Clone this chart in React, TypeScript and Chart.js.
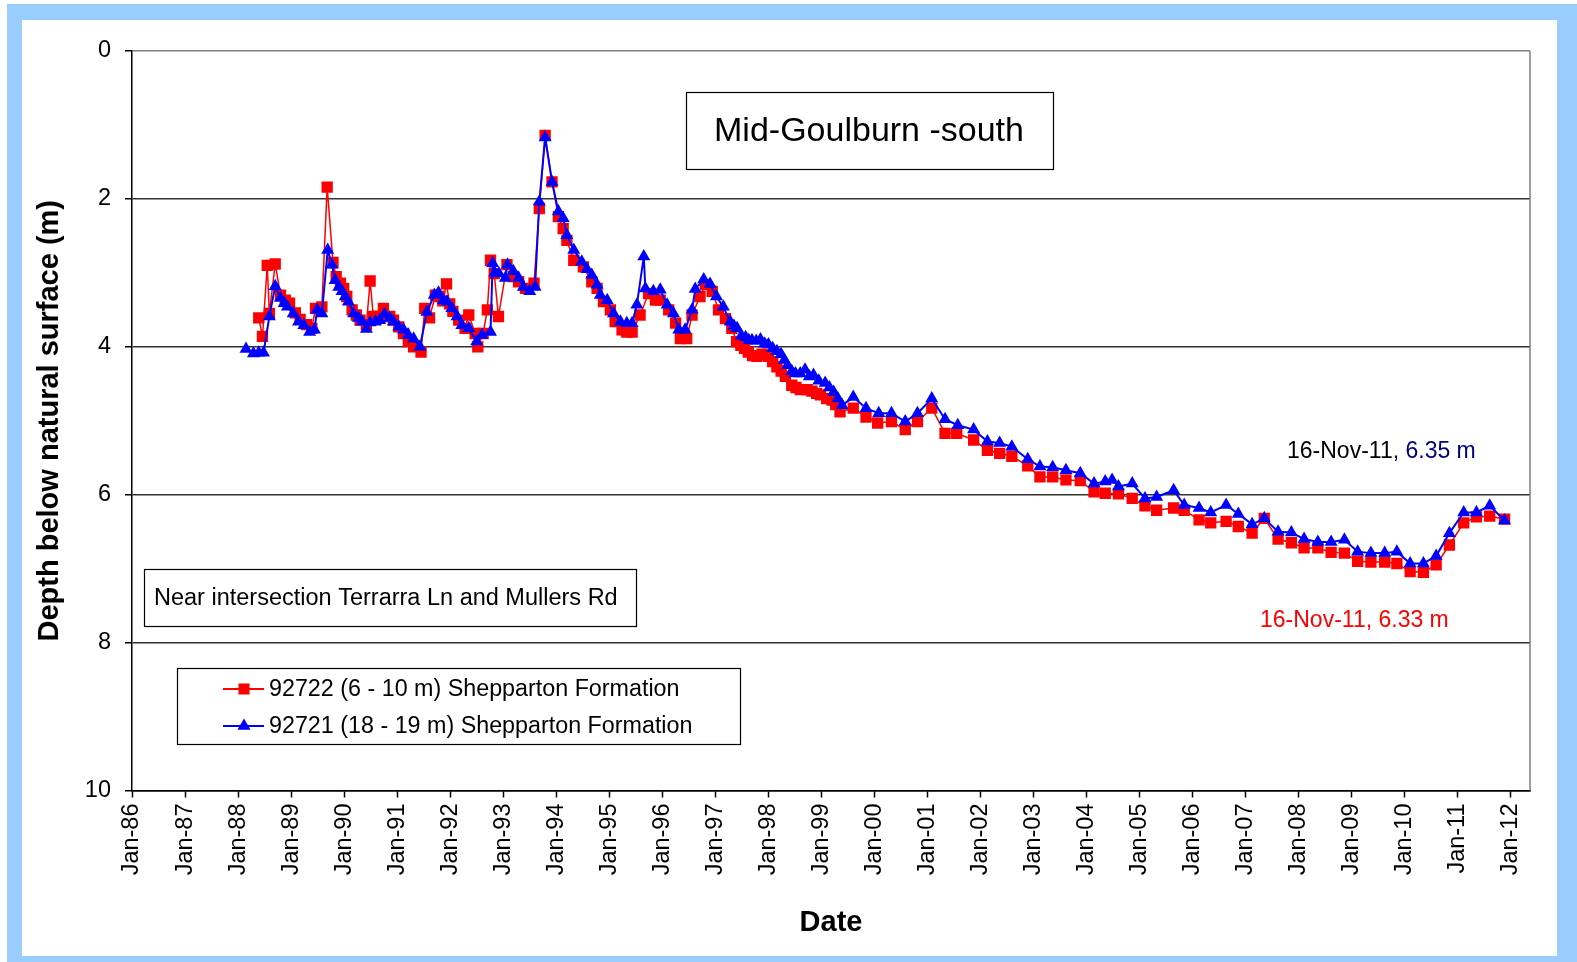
import React, { useEffect, useRef } from 'react';
import { Chart, registerables } from 'chart.js';

Chart.register(...registerables);

// ---- Data (decimal years, depth below natural surface in m) ----
const redDates = [
  1988.39, 1988.46, 1988.55, 1988.59, 1988.70, 1988.80, 1988.89, 1988.97, 1989.08, 1989.17,
  1989.29, 1989.39, 1989.46, 1989.58, 1989.68, 1989.79, 1989.85, 1989.93, 1989.99, 1990.05,
  1990.15, 1990.23, 1990.30, 1990.42, 1990.49, 1990.55, 1990.65, 1990.74, 1990.86, 1990.93,
  1991.03, 1991.12, 1991.21, 1991.31, 1991.45, 1991.52, 1991.61, 1991.72, 1991.80, 1991.86,
  1991.93, 1991.99, 1992.05, 1992.16, 1992.28, 1992.35, 1992.47, 1992.52, 1992.62, 1992.70,
  1992.76, 1992.83, 1992.91, 1993.07, 1993.19, 1993.29, 1993.42, 1993.58, 1993.68, 1993.79,
  1993.92, 1994.04, 1994.13, 1994.20, 1994.33, 1994.51, 1994.67, 1994.77, 1994.89, 1995.02,
  1995.11, 1995.24, 1995.33, 1995.43, 1995.58, 1995.74, 1995.87, 1995.96, 1996.12, 1996.25,
  1996.34, 1996.46, 1996.56, 1996.71, 1996.81, 1996.94, 1997.06, 1997.19, 1997.31, 1997.40,
  1997.48, 1997.55, 1997.62, 1997.70, 1997.78, 1997.88, 1998.00, 1998.08, 1998.16, 1998.24,
  1998.32, 1998.44, 1998.52, 1998.60, 1998.73, 1998.82, 1998.91, 1998.98, 1999.10, 1999.20,
  1999.27, 1999.35, 1999.60, 1999.84, 2000.06, 2000.32, 2000.58, 2000.81, 2001.08, 2001.33,
  2001.55, 2001.87, 2002.13, 2002.36, 2002.59, 2002.89, 2003.12, 2003.36, 2003.61, 2003.88,
  2004.14, 2004.35, 2004.60, 2004.86, 2005.10, 2005.32, 2005.64, 2005.84, 2006.12, 2006.34,
  2006.63, 2006.86, 2007.12, 2007.35, 2007.61, 2007.86, 2008.10, 2008.36, 2008.61, 2008.86,
  2009.11, 2009.36, 2009.62, 2009.85, 2010.10, 2010.35, 2010.59, 2010.84, 2011.11, 2011.35,
  2011.60, 2011.88,
];
const redDepths = [
  3.61, 3.86, 2.90, 3.55, 2.88, 3.30, 3.37, 3.41, 3.54, 3.63,
  3.70, 3.75, 3.48, 3.46, 1.84, 2.86, 3.05, 3.14, 3.21, 3.32,
  3.50, 3.57, 3.64, 3.70, 3.11, 3.59, 3.59, 3.48, 3.59, 3.64,
  3.73, 3.82, 3.93, 4.00, 4.07, 3.48, 3.61, 3.30, 3.32, 3.38,
  3.15, 3.42, 3.52, 3.64, 3.75, 3.57, 3.82, 4.00, 3.82, 3.50,
  2.83, 3.01, 3.59, 2.89, 3.05, 3.12, 3.21, 3.14, 2.13, 1.14,
  1.77, 2.24, 2.40, 2.56, 2.83, 2.92, 3.12, 3.21, 3.39, 3.50,
  3.66, 3.77, 3.80, 3.80, 3.57, 3.28, 3.37, 3.37, 3.50, 3.68,
  3.89, 3.89, 3.57, 3.32, 3.16, 3.25, 3.50, 3.62, 3.75, 3.93,
  3.98, 4.02, 4.07, 4.12, 4.13, 4.10, 4.13, 4.20, 4.27, 4.33,
  4.40, 4.52, 4.55, 4.58, 4.58, 4.60, 4.63, 4.65, 4.70, 4.72,
  4.78, 4.88, 4.83, 4.95, 5.03, 5.01, 5.12, 5.01, 4.83, 5.17,
  5.17, 5.26, 5.40, 5.44, 5.48, 5.61, 5.76, 5.76, 5.80, 5.81,
  5.96, 5.98, 5.99, 6.05, 6.15, 6.21, 6.18, 6.21, 6.34, 6.38,
  6.36, 6.43, 6.52, 6.32, 6.60, 6.65, 6.72, 6.72, 6.78, 6.79,
  6.90, 6.91, 6.91, 6.93, 7.04, 7.05, 6.95, 6.68, 6.38, 6.30,
  6.29, 6.33,
];

const blueDates = [
  1988.15, 1988.29, 1988.39, 1988.48, 1988.59, 1988.70, 1988.80, 1988.87, 1988.93, 1989.04,
  1989.14, 1989.24, 1989.35, 1989.44, 1989.49, 1989.58, 1989.69, 1989.77, 1989.83, 1989.90,
  1989.96, 1990.02, 1990.08, 1990.18, 1990.27, 1990.34, 1990.42, 1990.49, 1990.59, 1990.67,
  1990.76, 1990.86, 1990.93, 1991.03, 1991.12, 1991.21, 1991.31, 1991.43, 1991.56, 1991.70,
  1991.78, 1991.87, 1991.94, 1992.03, 1992.13, 1992.22, 1992.35, 1992.50, 1992.60, 1992.76,
  1992.80, 1992.84, 1992.92, 1993.04, 1993.08, 1993.19, 1993.29, 1993.38, 1993.50, 1993.60,
  1993.68, 1993.79, 1993.92, 1994.04, 1994.13, 1994.20, 1994.33, 1994.48, 1994.58, 1994.67,
  1994.77, 1994.83, 1994.96, 1995.08, 1995.21, 1995.33, 1995.43, 1995.52, 1995.65, 1995.68,
  1995.83, 1995.96, 1996.09, 1996.21, 1996.31, 1996.43, 1996.56, 1996.62, 1996.78, 1996.90,
  1997.02, 1997.15, 1997.28, 1997.35, 1997.41, 1997.49, 1997.57, 1997.63, 1997.69, 1997.77,
  1997.85, 1997.93, 1998.00, 1998.08, 1998.16, 1998.24, 1998.30, 1998.36, 1998.44, 1998.51,
  1998.60, 1998.69, 1998.77, 1998.85, 1998.95, 1999.07, 1999.15, 1999.23, 1999.31, 1999.39,
  1999.60, 1999.84, 2000.08, 2000.32, 2000.58, 2000.81, 2001.08, 2001.33, 2001.57, 2001.87,
  2002.13, 2002.36, 2002.59, 2002.89, 2003.12, 2003.36, 2003.61, 2003.88, 2004.14, 2004.35,
  2004.48, 2004.60, 2004.86, 2005.10, 2005.32, 2005.64, 2005.84, 2006.12, 2006.34, 2006.63,
  2006.86, 2007.12, 2007.35, 2007.61, 2007.86, 2008.10, 2008.36, 2008.61, 2008.86, 2009.11,
  2009.36, 2009.62, 2009.85, 2010.10, 2010.35, 2010.59, 2010.84, 2011.11, 2011.35, 2011.60,
  2011.88,
];
const blueDepths = [
  4.03, 4.09, 4.08, 4.08, 3.59, 3.18, 3.34, 3.41, 3.46, 3.55,
  3.66, 3.71, 3.80, 3.77, 3.50, 3.55, 2.69, 2.89, 3.10, 3.19,
  3.25, 3.32, 3.39, 3.55, 3.61, 3.66, 3.76, 3.67, 3.66, 3.64,
  3.56, 3.61, 3.66, 3.73, 3.77, 3.84, 3.89, 4.00, 3.53, 3.30,
  3.27, 3.37, 3.39, 3.48, 3.59, 3.71, 3.75, 3.93, 3.84, 3.80,
  2.87, 3.00, 3.01, 3.07, 2.89, 2.98, 3.07, 3.19, 3.25, 3.19,
  2.04, 1.17, 1.77, 2.17, 2.26, 2.49, 2.69, 2.85, 2.95, 3.03,
  3.16, 3.30, 3.37, 3.55, 3.66, 3.68, 3.68, 3.43, 2.78, 3.21,
  3.25, 3.23, 3.43, 3.55, 3.77, 3.77, 3.50, 3.22, 3.09, 3.15,
  3.32, 3.46, 3.66, 3.72, 3.75, 3.85, 3.87, 3.91, 3.91, 3.92,
  3.90, 3.96, 3.97, 4.02, 4.06, 4.10, 4.18, 4.25, 4.33, 4.36,
  4.36, 4.31, 4.40, 4.38, 4.46, 4.49, 4.55, 4.61, 4.70, 4.79,
  4.68, 4.83, 4.90, 4.90, 5.01, 4.90, 4.70, 4.98, 5.06, 5.12,
  5.28, 5.30, 5.35, 5.52, 5.62, 5.63, 5.67, 5.71, 5.85, 5.82,
  5.80, 5.89, 5.85, 6.05, 6.03, 5.94, 6.14, 6.18, 6.24, 6.14,
  6.26, 6.40, 6.32, 6.50, 6.51, 6.60, 6.64, 6.64, 6.61, 6.77,
  6.79, 6.79, 6.77, 6.93, 6.93, 6.83, 6.52, 6.24, 6.24, 6.15,
  6.35,
];

const tickYears = [
  1986, 1987, 1988, 1989, 1990, 1991, 1992, 1993, 1994, 1995, 1996, 1997, 1998, 1999,
  2000, 2001, 2002, 2003, 2004, 2005, 2006, 2007, 2008, 2009, 2010, 2011, 2012,
];
const tickLabels = [
  'Jan-86', 'Jan-87', 'Jan-88', 'Jan-89', 'Jan-90', 'Jan-91', 'Jan-92', 'Jan-93', 'Jan-94',
  'Jan-95', 'Jan-96', 'Jan-97', 'Jan-98', 'Jan-99', 'Jan-00', 'Jan-01', 'Jan-02', 'Jan-03',
  'Jan-04', 'Jan-05', 'Jan-06', 'Jan-07', 'Jan-08', 'Jan-09', 'Jan-10', 'Jan-11', 'Jan-12',
];
const xMin = 1986;
const xMax = 2012.36;
const yTicks = [0, 2, 4, 6, 8, 10];

const redLabel = '92722 (6 - 10 m) Shepparton Formation';
const blueLabel = '92721 (18 - 19 m) Shepparton Formation';
const chartTitle = 'Mid-Goulburn -south';
const siteNote = 'Near intersection Terrarra Ln and Mullers Rd';
const blueNoteDate = '16-Nov-11,';
const blueNoteValue = ' 6.35 m';
const redNote = '16-Nov-11, 6.33 m';

const FONT = "'Liberation Sans', Arial, Helvetica, sans-serif";
const RED = '#FF0000';
const BLUE = '#0000FF';

function drawRect(ctx: CanvasRenderingContext2D, x: number, y: number, side: number, color: string) {
  ctx.fillStyle = color;
  ctx.fillRect(x - side / 2, y - side / 2, side, side);
}
function drawTri(ctx: CanvasRenderingContext2D, x: number, y: number, r: number, color: string) {
  ctx.fillStyle = color;
  ctx.beginPath();
  ctx.moveTo(x, y - r);
  ctx.lineTo(x + r * 0.866, y + r * 0.5);
  ctx.lineTo(x - r * 0.866, y + r * 0.5);
  ctx.closePath();
  ctx.fill();
}

const overlayPlugin = {
  id: 'overlayBoxes',
  afterDraw(chart: any) {
    const ctx: CanvasRenderingContext2D = chart.ctx;
    const area = chart.chartArea;
    ctx.save();
    // right border of plot area
    ctx.strokeStyle = '#808080';
    ctx.lineWidth = 1.5;
    ctx.beginPath();
    ctx.moveTo(area.right, area.top);
    ctx.lineTo(area.right, area.bottom);
    ctx.stroke();

    const box = (x1: number, y1: number, x2: number, y2: number) => {
      ctx.fillStyle = '#FFFFFF';
      ctx.fillRect(x1, y1, x2 - x1, y2 - y1);
      ctx.strokeStyle = '#000000';
      ctx.lineWidth = 1.2;
      ctx.strokeRect(x1 + 0.5, y1 + 0.5, x2 - x1, y2 - y1);
    };

    // title box
    box(686, 92, 1053, 169);
    ctx.fillStyle = '#000';
    ctx.font = `34px ${FONT}`;
    ctx.textAlign = 'center';
    ctx.textBaseline = 'middle';
    ctx.fillText(chartTitle, 869, 132);

    // site note box
    box(144, 569, 636, 626);
    ctx.font = `23.5px ${FONT}`;
    ctx.textAlign = 'left';
    ctx.fillStyle = '#000';
    ctx.fillText(siteNote, 154, 599);

    // last value notes
    ctx.font = `23px ${FONT}`;
    ctx.fillStyle = '#000';
    ctx.fillText(blueNoteDate, 1287, 452);
    const w = ctx.measureText(blueNoteDate).width;
    ctx.fillStyle = '#000080';
    ctx.fillText(blueNoteValue, 1287 + w, 452);
    ctx.fillStyle = RED;
    ctx.fillText(redNote, 1260, 621);

    // legend
    box(177, 668, 740, 744);
    const items = [
      { label: redLabel, color: RED, y: 689, kind: 'rect' },
      { label: blueLabel, color: BLUE, y: 726, kind: 'tri' },
    ];
    items.forEach((it) => {
      ctx.strokeStyle = it.color;
      ctx.lineWidth = 2;
      ctx.beginPath();
      ctx.moveTo(223, it.y);
      ctx.lineTo(264, it.y);
      ctx.stroke();
      if (it.kind === 'rect') drawRect(ctx, 244, it.y, 11, it.color);
      else drawTri(ctx, 244, it.y, 7.5, it.color);
      ctx.fillStyle = '#000';
      ctx.font = `23.3px ${FONT}`;
      ctx.textAlign = 'left';
      ctx.textBaseline = 'middle';
      ctx.fillText(it.label, 269, it.y + 1);
    });
    ctx.restore();
  },
};

export default function App() {
  const canvasRef = useRef<HTMLCanvasElement | null>(null);

  useEffect(() => {
    const canvas = canvasRef.current;
    if (!canvas) return;
    const redData = redDates.map((x, i) => ({ x, y: redDepths[i] }));
    const blueData = blueDates.map((x, i) => ({ x, y: blueDepths[i] }));

    const chart = new Chart(canvas, {
      type: 'line',
      data: {
        datasets: [
          {
            label: redLabel,
            data: redData,
            borderColor: RED,
            backgroundColor: RED,
            borderWidth: 1.5,
            pointStyle: 'rect',
            pointRadius: 8,
            pointBorderWidth: 0,
            pointBackgroundColor: RED,
            tension: 0,
            order: 2,
          },
          {
            label: blueLabel,
            data: blueData,
            borderColor: BLUE,
            backgroundColor: BLUE,
            borderWidth: 2,
            pointStyle: 'triangle',
            pointRadius: 7.5,
            pointBorderWidth: 0,
            pointBackgroundColor: BLUE,
            tension: 0,
            order: 1,
          },
        ],
      },
      options: {
        responsive: false,
        animation: false,
        devicePixelRatio: 1,
        layout: { padding: { left: 22, right: 47, top: 51, bottom: 6 } },
        plugins: {
          legend: { display: false },
          tooltip: { enabled: false },
          title: { display: false },
        },
        scales: {
          x: {
            type: 'linear',
            min: xMin,
            max: xMax,
            afterFit: (scale: any) => {
              scale.height = 165.5;
            },
            afterBuildTicks: (scale: any) => {
              scale.ticks = tickYears.map((v) => ({ value: v }));
            },
            ticks: {
              autoSkip: false,
              minRotation: 90,
              maxRotation: 90,
              padding: 6,
              color: '#000',
              font: { family: FONT, size: 23.5 },
              callback: (value: any) => {
                const idx = tickYears.indexOf(Number(value));
                return idx >= 0 ? tickLabels[idx] : '';
              },
            },
            grid: {
              display: true,
              drawOnChartArea: false,
              drawTicks: true,
              tickLength: 7,
              tickColor: '#000',
              tickWidth: 1.5,
            },
            border: { display: true, color: '#000', width: 1.5 },
            title: {
              display: true,
              text: 'Date',
              color: '#000',
              font: { family: FONT, size: 29, weight: 'bold' },
              padding: { top: 0, bottom: 15.6 },
            },
          },
          y: {
            type: 'linear',
            reverse: true,
            min: 0,
            max: 10,
            afterFit: (scale: any) => {
              scale.width = 110;
            },
            afterBuildTicks: (scale: any) => {
              scale.ticks = yTicks.map((v) => ({ value: v }));
            },
            ticks: {
              padding: 14,
              color: '#000',
              font: { family: FONT, size: 23.5 },
              callback: (value: any) => String(value),
            },
            grid: {
              display: true,
              drawOnChartArea: true,
              drawTicks: true,
              tickLength: 7,
              tickColor: '#000',
              tickWidth: 1.5,
              lineWidth: 1.5,
              color: (c: any) => {
                const v = c.tick ? c.tick.value : null;
                if (v === 0) return '#808080';
                if (v === 10) return '#000';
                return '#333333';
              },
            },
            border: { display: true, color: '#000', width: 1.5 },
            title: {
              display: true,
              text: 'Depth below natural surface (m)',
              color: '#000',
              font: { family: FONT, size: 29, weight: 'bold' },
              padding: { top: 10.6, bottom: 0 },
            },
          },
        },
      },
      plugins: [overlayPlugin],
    });
    return () => chart.destroy();
  }, []);

  return (
    <div style={{ position: 'absolute', left: 0, top: 0, width: 1577, height: 962, background: '#fff', overflow: 'hidden' }}>
      <div style={{ position: 'absolute', left: 7, top: 4, width: 1570, height: 958, background: '#99CCFF' }} />
      <div style={{ position: 'absolute', left: 22, top: 20, width: 1535, height: 936, background: '#FFFFFF' }} />
      <canvas
        ref={canvasRef}
        width={1577}
        height={962}
        style={{ position: 'absolute', left: 0, top: 0, width: 1577, height: 962 }}
      />
    </div>
  );
}
